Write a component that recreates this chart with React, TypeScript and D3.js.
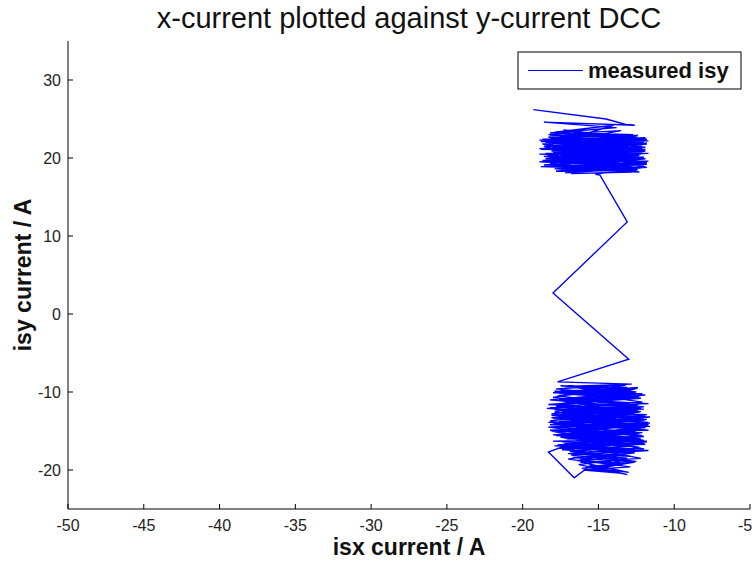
import React from "react";
import * as d3 from "d3";

const titleText = "x-current plotted against y-current DCC";
const xLabel = "isx current / A";
const yLabel = "isy current / A";
const legendLabel = "measured isy";

const xTicks = [-50, -45, -40, -35, -30, -25, -20, -15, -10, -5];
const yTicks = [-20, -10, 0, 10, 20, 30];

// upper cluster of measured isx / isy (A)
const upperX = [
  -19.3, -14.5, -13.2, -12.6, -18.6, -13.8, -18.2, -12.4, -18.8, -11.9, -17.6, -12.3, -18.9, -12.0, -18.4, -11.8,
  -17.9, -12.5, -18.7, -12.2, -17.3, -13.0, -18.1, -11.7, -18.5, -12.6, -17.8, -13.1, -18.3, -12.1, -18.9, -11.9,
  -17.5, -12.4, -18.6, -11.8, -17.2, -12.9, -18.0, -12.3, -18.7, -12.7, -17.9, -14.0, -18.4, -11.8, -18.1, -12.2,
  -17.6, -11.9, -18.8, -12.5, -17.4, -12.0, -18.2, -12.8, -16.8, -13.3, -18.5, -12.1, -17.7, -12.6, -18.3, -13.5,
  -17.0, -12.3, -18.0, -11.7, -17.3, -12.4, -18.6, -12.0, -17.8, -11.8, -18.2, -12.6, -17.5, -12.2, -18.9, -12.9,
  -17.1, -11.9, -18.4, -12.5, -17.9, -12.1, -18.1, -13.2, -16.9, -12.3,
  -18.6, -12.2, -17.9, -11.9, -18.3, -12.5, -17.4, -12.0, -18.8, -12.7, -17.6, -11.8, -18.1, -12.3, -17.2, -12.9,
  -18.5, -11.7, -17.8, -12.4, -18.2, -12.1, -17.0, -12.6, -18.7, -11.9, -17.5, -12.2, -18.4, -12.8, -17.7, -12.0,
  -18.9, -12.5, -17.3, -11.8, -18.0, -12.3, -17.9, -13.0, -15.2,
];
const upperY = [
  26.2, 25.0, 24.3, 24.2, 24.6, 23.9, 23.2, 22.8, 22.1, 22.6, 21.4, 21.0, 20.5, 20.1, 19.6, 19.2,
  18.6, 18.4, 21.8, 22.4, 23.6, 22.2, 20.9, 20.6, 19.9, 19.5, 18.3, 18.9, 22.7, 21.7, 21.2, 21.4,
  20.3, 19.9, 19.1, 18.8, 18.1, 18.6, 20.7, 20.4, 22.4, 23.0, 23.3, 24.2, 21.6, 21.9, 20.0, 19.4,
  19.0, 20.9, 21.1, 21.3, 22.0, 22.1, 19.3, 18.2, 18.0, 19.7, 20.6, 20.8, 21.9, 22.5, 23.0, 23.5,
  22.3, 21.5, 19.8, 19.6, 18.7, 18.5, 20.2, 20.0, 21.0, 21.8, 22.9, 22.6, 21.2, 20.5, 19.5, 19.0,
  18.4, 18.9, 20.4, 20.7, 22.2, 21.6, 19.7, 19.3, 18.5, 18.2,
  21.5, 21.3, 20.8, 21.1, 20.1, 19.8, 19.4, 19.1, 18.9, 18.5, 18.3, 19.4, 19.9, 20.3, 20.5, 21.7,
  22.0, 22.2, 22.6, 22.9, 21.9, 21.2, 20.6, 20.2, 19.7, 19.9, 18.8, 18.7, 20.4, 20.9, 21.4, 21.8,
  22.3, 22.7, 23.1, 22.4, 21.0, 20.6, 19.2, 18.6, 17.9,
];

// transition between the two operating points
const bridgeX = [-14.9, -13.1, -18.0, -13.0];
const bridgeY = [17.8, 11.8, 2.7, -5.8];

// lower cluster
const lowerX = [
  -17.7, -12.8, -17.2, -13.1, -18.0, -12.5, -17.6, -12.2, -18.3, -12.0, -17.4, -11.8, -18.1, -12.3, -17.8, -11.6,
  -18.2, -12.1, -17.5, -12.4, -18.0, -11.9, -17.3, -12.6, -17.0, -12.9, -16.4, -13.3, -15.8, -13.0, -16.2, -12.2,
  -17.2, -12.0, -17.9, -11.7, -18.1, -12.4, -17.7, -12.7, -17.5, -12.1, -18.4, -11.9, -17.6, -12.2, -18.0, -12.5,
  -17.1, -11.8, -17.4, -12.8, -16.7, -12.6, -15.4, -13.6, -16.0, -12.9, -17.0, -12.3, -17.8, -11.7, -18.3, -12.0,
  -17.9, -12.6, -17.3, -12.3, -17.8, -13.2, -18.0, -12.0, -17.6, -11.6, -18.2, -12.1, -17.4, -12.2, -17.7, -12.7,
  -16.9, -13.1, -16.3, -13.1, -15.5, -16.6, -18.3, -17.2, -12.0, -17.5, -11.9, -18.1, -12.2, -17.6, -12.8, -17.2,
  -12.4, -17.9, -11.8, -18.0, -12.3, -17.3, -12.0, -17.7, -11.7, -16.8, -12.5, -16.1, -13.4, -17.4, -12.1, -18.2,
  -12.6, -17.5, -11.9, -17.0, -12.7,
  -17.9, -12.1, -17.4, -11.7, -18.2, -12.4, -17.6, -12.0, -18.0, -11.8, -17.3, -12.6, -17.8, -12.2, -18.3, -11.9,
  -17.5, -12.5, -17.1, -12.8, -16.6, -13.0, -16.0, -12.7, -16.8, -12.3, -17.4, -11.8, -17.9, -12.0, -18.1, -11.6,
  -17.7, -12.2, -18.2, -12.5, -17.5, -12.9, -17.8, -12.4, -17.2, -12.1, -16.9, -12.6, -16.2, -13.4, -15.7, -12.8,
  -17.0, -12.0, -17.6, -11.7, -18.0, -12.3, -17.3, -12.7, -17.6, -12.4,
];
const lowerY = [
  -8.7, -9.0, -9.3, -9.4, -10.1, -10.3, -11.0, -10.8, -11.6, -12.2, -12.5, -12.9, -13.3, -13.6, -14.1, -14.4,
  -14.9, -15.2, -15.8, -16.1, -16.3, -16.7, -17.0, -17.4, -17.9, -18.2, -18.8, -19.1, -19.6, -20.3, -19.0, -18.5,
  -16.6, -15.7, -14.6, -13.9, -12.8, -11.7, -10.5, -9.7, -9.8, -11.3, -12.1, -13.1, -13.8, -14.7, -15.5, -15.0,
  -16.0, -16.4, -17.4, -17.8, -18.4, -19.0, -19.9, -20.4, -20.0, -19.6, -18.6, -17.1, -15.1, -14.9, -13.9, -13.4,
  -12.3, -12.0, -11.4, -10.6, -9.6, -9.1, -10.7, -11.9, -12.9, -13.2, -14.2, -14.1, -15.4, -16.0, -16.8, -16.9,
  -17.6, -18.5, -19.3, -20.6, -19.4, -21.0, -17.7, -16.9, -16.2, -14.4, -14.6, -13.0, -12.5, -11.8, -10.1, -10.3,
  -9.5, -12.6, -13.5, -14.0, -15.3, -15.9, -16.5, -17.2, -17.5, -18.1, -18.9, -19.8, -19.2, -16.4, -15.6, -13.7,
  -12.7, -11.1, -10.4, -9.2, -10.9,
  -9.9, -10.2, -10.9, -11.5, -12.0, -12.4, -13.0, -13.5, -14.0, -14.3, -14.8, -15.3, -15.6, -16.0, -14.5, -13.6,
  -12.7, -11.9, -11.2, -10.4, -9.4, -9.9, -11.5, -12.8, -13.7, -14.5, -15.7, -16.3, -16.9, -17.3, -15.0, -14.0,
  -13.1, -12.1, -11.0, -10.0, -9.2, -9.6, -11.8, -13.3, -14.9, -16.2, -17.1, -17.8, -18.6, -19.4, -18.1, -18.9,
  -17.3, -16.6, -15.2, -14.2, -13.4, -12.6, -11.6, -10.8, -10.2, -9.4,
];

const isx = [...upperX, ...bridgeX, ...lowerX];
const isy = [...upperY, ...bridgeY, ...lowerY];

const W = 755;
const H = 563;
const margin = { left: 68, right: 5, top: 41, bottom: 54 };

export default function App() {
  const x = d3.scaleLinear().domain([-50, -5]).range([margin.left, W - margin.right]);
  const y = d3.scaleLinear().domain([-25, 35]).range([H - margin.bottom, margin.top]);
  const n = Math.min(isx.length, isy.length);
  const pts = isx.slice(0, n).map((v, i) => [v, isy[i]] as [number, number]);
  const line = d3
    .line<[number, number]>()
    .x((d) => x(d[0]))
    .y((d) => y(d[1]));
  const x0 = x(-50);
  const x1 = x(-5);
  const yb = y(-25);
  const yt = y(35);
  const font = "Arial, 'Liberation Sans', Helvetica, sans-serif";
  const tickLen = 5;
  return (
    <svg
      width={W}
      height={H}
      style={{ position: "absolute", left: 0, top: 0, background: "#fff" }}
      fontFamily={font}
    >
      <rect x={0} y={0} width={W} height={H} fill="#fff" />
      <text x={(x0 + x1) / 2} y={28} textAnchor="middle" fontSize={29} fill="#111">
        {titleText}
      </text>
      <path d={line(pts) || ""} fill="none" stroke="#0000ff" strokeWidth={1.35} strokeLinejoin="miter" />
      <line x1={x0} x2={x0} y1={yt} y2={yb} stroke="#000" strokeWidth={1} />
      <line x1={x0} x2={x1} y1={yb} y2={yb} stroke="#000" strokeWidth={1} />
      {xTicks.map((t) => (
        <g key={"x" + t}>
          <line x1={x(t)} x2={x(t)} y1={yb} y2={yb - tickLen} stroke="#000" />
          <text
            x={Math.min(x(t), W - 10)}
            y={yb + 22}
            textAnchor="middle"
            fontSize={16}
            fill="#222"
          >
            {t}
          </text>
        </g>
      ))}
      {yTicks.map((t) => (
        <g key={"y" + t}>
          <line x1={x0} x2={x0 + tickLen} y1={y(t)} y2={y(t)} stroke="#000" />
          <text x={x0 - 7} y={y(t) + 6} textAnchor="end" fontSize={16} fill="#222">
            {t}
          </text>
        </g>
      ))}
      <text x={(x0 + x1) / 2} y={555} textAnchor="middle" fontSize={23} fontWeight="bold" fill="#111">
        {xLabel}
      </text>
      <text
        transform={`translate(31, ${(yt + yb) / 2}) rotate(-90)`}
        textAnchor="middle"
        fontSize={23}
        fontWeight="bold"
        fill="#111"
      >
        {yLabel}
      </text>
      <rect x={518} y={52} width={223} height={37} fill="#fff" stroke="#000" strokeWidth={1} />
      <line x1={528} x2={583} y1={70.5} y2={70.5} stroke="#0000ff" strokeWidth={1} />
      <text x={588} y={78} fontSize={22} fontWeight="bold" fill="#111">
        {legendLabel}
      </text>
    </svg>
  );
}
